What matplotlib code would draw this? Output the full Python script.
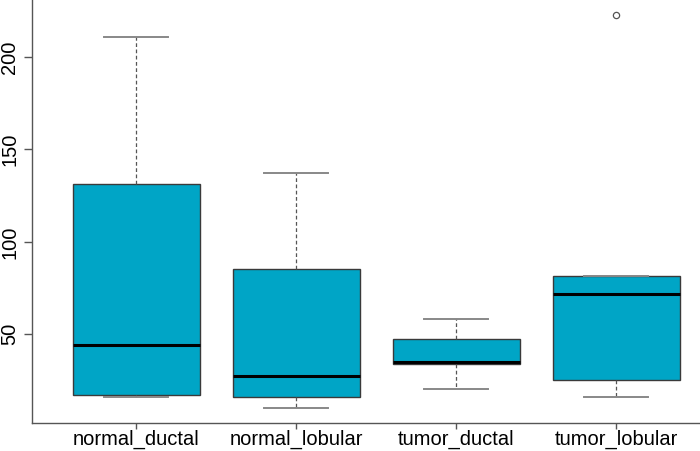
import matplotlib
matplotlib.use("Agg")
import matplotlib.pyplot as plt

categories = ["normal_ductal", "normal_lobular", "tumor_ductal", "tumor_lobular"]
whislo = [16.0, 10.0, 20.2, 15.8]
q1 = [17.1, 16.2, 33.9, 25.1]
med = [44.0, 27.6, 34.8, 71.6]
q3 = [131.2, 85.4, 47.3, 81.6]
whishi = [210.9, 137.3, 58.5, 81.6]
fliers = [[], [], [], [222.5]]
yticks = [50, 100, 150, 200]

plt.rcParams['font.family'] = ['Liberation Sans', 'DejaVu Sans']

fig = plt.figure(figsize=(7.0, 4.51), dpi=100)
ax = fig.add_axes([32/700, (451-423.3)/451, 668/700, 423.3/451])

stats = []
for i, c in enumerate(categories):
    stats.append(dict(label=c, whislo=whislo[i], q1=q1[i], med=med[i],
                      q3=q3[i], whishi=whishi[i], fliers=fliers[i]))

positions = list(range(1, len(categories) + 1))
ax.bxp(stats, positions=positions, widths=0.795, patch_artist=True,
       boxprops=dict(facecolor="#00A5C6", edgecolor="#3a3a3a", linewidth=1.0),
       medianprops=dict(color="black", linewidth=2.2),
       whiskerprops=dict(color="#555555", linestyle=(0, (3, 2)), linewidth=0.9),
       capprops=dict(color="#888888", linewidth=1.4),
       capwidths=0.4,
       flierprops=dict(marker="o", markerfacecolor="none", markeredgecolor="#555555",
                       markersize=4.5, markeredgewidth=0.9))

ax.set_xlim(0.347, 4.522)
ax.set_ylim(1.84, 230.8)
ax.set_yticks(yticks)
ax.set_yticklabels([str(t) for t in yticks], rotation=90, va="center", fontsize=14.5)
ax.set_xticks(positions)
ax.set_xticklabels(categories, fontsize=14.5)

for s in ["top", "right"]:
    ax.spines[s].set_visible(False)
for s in ["left", "bottom"]:
    ax.spines[s].set_color("#555555")
    ax.spines[s].set_linewidth(1.0)
ax.tick_params(axis="both", direction="out", width=1.0, color="#555555",
               labelcolor="black")
ax.tick_params(axis="y", length=6, pad=3)
ax.tick_params(axis="x", length=4, pad=1)

fig.savefig("out.png", dpi=100)
